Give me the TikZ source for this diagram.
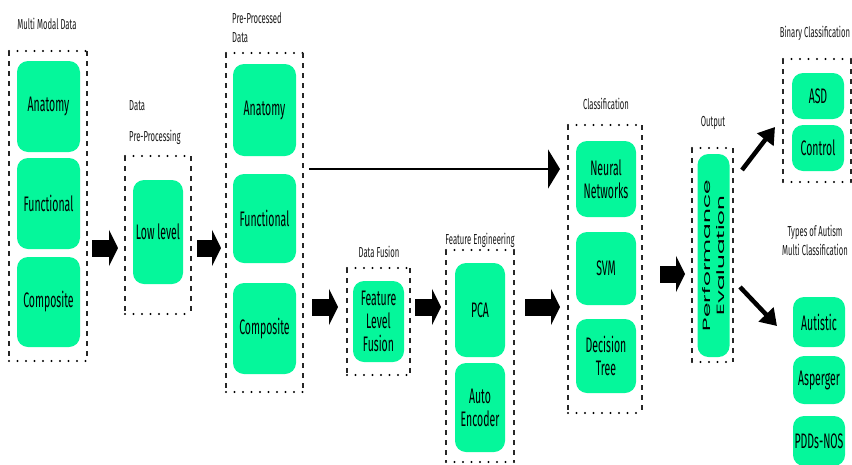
\documentclass[tikz,border=0pt]{standalone}
\usepackage{fontspec}
\setmainfont{Fira Sans}
\newfontfamily\condf[FakeStretch=0.5]{Fira Sans}
\newfontfamily\labf[FakeStretch=0.53]{Fira Sans}
\newfontfamily\perff{Poppins}
\usetikzlibrary{arrows.meta}
\definecolor{mint}{RGB}{5,247,155}
\definecolor{labc}{RGB}{25,25,25}
\tikzset{
  gbox/.style={fill=mint, rounded corners=11pt, inner sep=0pt, outer sep=0pt, align=center,
    font=\condf\fontsize{21}{23}\selectfont, text=black},
  framebox/.style={inner sep=0pt, outer sep=0pt},
  dotline/.style={draw=black, line width=2.2pt, dash pattern=on 0pt off 8.5pt, line cap=round},
  dashline/.style={draw=black!85, line width=1.4pt, dash pattern=on 4.5pt off 5.5pt},
  blockarr/.style={draw=black, line width=17pt, -{Triangle[length=9pt,width=36pt]}},
  thinarr/.style={draw=black, line width=2pt, -{Triangle[length=12pt,width=39pt]}},
  diagarr/.style={draw=black, line width=4.5pt, -{Triangle[length=16pt,width=20pt]}},
  lab/.style={inner sep=0pt, font=\labf\fontsize{14.5}{18}\selectfont, text=labc}
}
\newcommand\fredges[1]{%
  \draw[dotline] (#1.north west) -- (#1.north east) (#1.south west) -- (#1.south east);
  \draw[dashline] (#1.north west) -- (#1.south west) (#1.north east) -- (#1.south east);}
\begin{document}
\begin{tikzpicture}[x=1pt,y=-1pt]
\useasboundingbox (0,0) rectangle (852,464);
% frames
\node[framebox, minimum width=78pt, minimum height=310pt] (f1) at (48,206) {};
\node[framebox, minimum width=66pt, minimum height=158pt] (f2) at (158,235) {};
\node[framebox, minimum width=77pt, minimum height=339pt] (f3) at (264.5,222.5) {};
\node[framebox, minimum width=63pt, minimum height=107pt] (f4) at (378.5,321.5) {};
\node[framebox, minimum width=68pt, minimum height=212pt] (f5) at (480,356) {};
\node[framebox, minimum width=74pt, minimum height=288pt] (f6) at (605,269) {};
\node[framebox, minimum width=41pt, minimum height=214pt] (f7) at (712.5,255) {};
\node[framebox, minimum width=68pt, minimum height=123pt] (f8) at (817,120.5) {};
\fredges{f1}\fredges{f2}\fredges{f3}\fredges{f4}\fredges{f5}\fredges{f6}\fredges{f7}\fredges{f8}
% green boxes
\node[gbox, minimum width=63pt, minimum height=91pt] (anat1) at (48.5,106.5) {Anatomy};
\node[gbox, minimum width=63pt, minimum height=91pt] (func1) at (48.5,203.5) {Functional};
\node[gbox, minimum width=63pt, minimum height=90pt] (comp1) at (48.5,302) {Composite};
\node[gbox, minimum width=50pt, minimum height=104pt] (low) at (158,232) {Low level};
\node[gbox, minimum width=63pt, minimum height=92pt] (anat3) at (264.5,110) {Anatomy};
\node[gbox, minimum width=63pt, minimum height=89pt] (func3) at (264.5,218.5) {Functional};
\node[gbox, minimum width=63pt, minimum height=91pt] (comp3) at (264.5,328.5) {Composite};
\node[gbox, minimum width=51pt, minimum height=81pt] (fusion) at (378.5,321.5) {Feature\\Level\\Fusion};
\node[gbox, minimum width=50pt, minimum height=94pt] (pca) at (480,310) {PCA};
\node[gbox, minimum width=50pt, minimum height=89pt] (auto) at (480,407.5) {Auto\\Encoder};
\node[gbox, minimum width=60pt, minimum height=76pt] (nn) at (606,179) {Neural\\Networks};
\node[gbox, minimum width=60pt, minimum height=73pt] (svm) at (606,268.5) {SVM};
\node[gbox, minimum width=60pt, minimum height=74pt] (dt) at (606,356) {Decision\\Tree};
\node[gbox, rotate=90, minimum width=203pt, minimum height=32pt, font=\fontsize{8}{14}\selectfont] (perf) at (713.5,255.5)
  {\resizebox{151pt}{8pt}{\perff Performance}\\\resizebox{120pt}{8pt}{\perff Evaluation}};
\node[gbox, minimum width=52pt, minimum height=46pt] (asd) at (818,96) {ASD};
\node[gbox, minimum width=52pt, minimum height=46pt] (ctrl) at (818,148) {Control};
\node[gbox, minimum width=52pt, minimum height=50pt] (autistic) at (819,322) {Autistic};
\node[gbox, minimum width=52pt, minimum height=48pt] (asper) at (819,380) {Asperger};
\node[gbox, minimum width=52pt, minimum height=50pt] (pdd) at (819,441) {PDDs-NOS};
% labels
\node[lab] (l1) at (47,24) {Multi Modal Data};
\node[lab, anchor=west] (l2a) at (129,106) {Data};
\node[lab, anchor=west] (l2b) at (129,137) {Pre-Processing};
\node[lab, anchor=west] (l3a) at (232,18) {Pre-Processed};
\node[lab, anchor=west] (l3b) at (232,38) {Data};
\node[lab] (l4) at (379,252) {Data Fusion};
\node[lab] (l5) at (480,240) {Feature Engineering};
\node[lab] (l6) at (606,104) {Classification};
\node[lab] (l7) at (713,123) {Output};
\node[lab] (l8) at (815,33) {Binary Classification};
\node[lab] (l9a) at (815,232) {Types of Autism};
\node[lab] (l9b) at (815,250) {Multi Classification};
% arrow end points
\coordinate (a1s) at (92,248);  \coordinate (a1e) at (118,248);
\coordinate (a2s) at (197,248); \coordinate (a2e) at (221,248);
\coordinate (a3s) at (312,307); \coordinate (a3e) at (338,307);
\coordinate (a4s) at (415,307); \coordinate (a4e) at (441,307);
\coordinate (a5s) at (525,307); \coordinate (a5e) at (560,307);
\coordinate (a6s) at (660,274); \coordinate (a6e) at (685,274);
\coordinate (ls) at (309,169);  \coordinate (le) at (560,169);
\coordinate (d1s) at (742,170); \coordinate (d1e) at (775,127);
\coordinate (d2s) at (740,287); \coordinate (d2e) at (777,326);
\draw[blockarr] (a1s) -- (a1e);
\draw[blockarr] (a2s) -- (a2e);
\draw[blockarr] (a3s) -- (a3e);
\draw[blockarr] (a4s) -- (a4e);
\draw[blockarr] (a5s) -- (a5e);
\draw[blockarr] (a6s) -- (a6e);
\draw[thinarr] (ls) -- (le);
\draw[diagarr] (d1s) -- (d1e);
\draw[diagarr] (d2s) -- (d2e);
\end{tikzpicture}
\end{document}
